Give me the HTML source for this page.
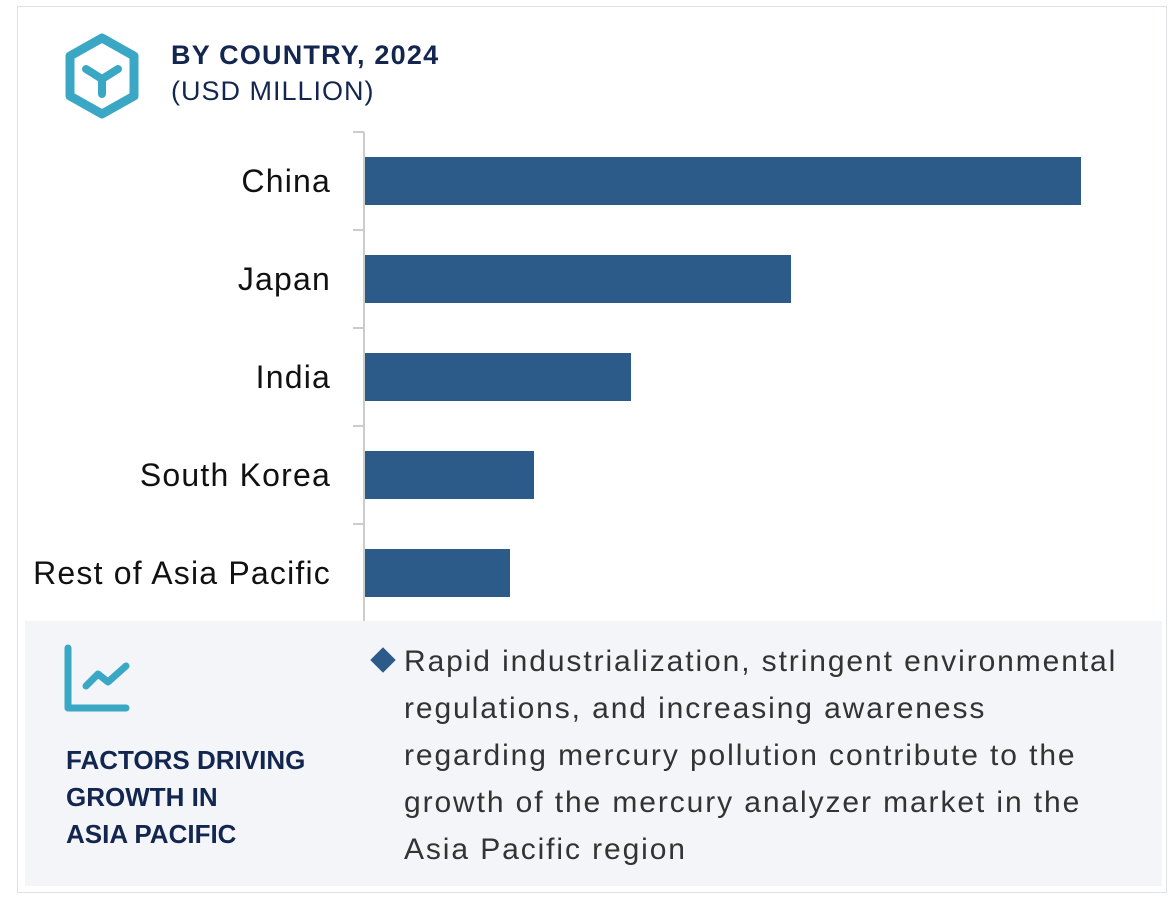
<!DOCTYPE html>
<html><head><meta charset="utf-8"><style>
body{margin:0;width:1170px;height:904px;background:#fff;font-family:"Liberation Sans",sans-serif;position:relative;overflow:hidden}
.frame{position:absolute;left:17px;top:6px;width:1150px;height:887px;border:1px solid #dde0e6;box-sizing:border-box}
.title{position:absolute;left:171px;top:40px;font-size:27px;font-weight:bold;color:#13264f;letter-spacing:1.2px}
.sub{position:absolute;left:171px;top:76px;font-size:27px;color:#13264f;letter-spacing:1px}
.panel{position:absolute;left:25px;top:621px;width:1137px;height:265px;background:#f4f5f9}
.ptitle{position:absolute;left:66px;top:742px;font-size:26px;font-weight:bold;color:#13264f;line-height:37px}
.ptext{position:absolute;left:404px;top:638px;font-size:30px;color:#333;line-height:47px;white-space:nowrap;letter-spacing:1.9px}
.dia{position:absolute;left:374px;top:651px;width:18px;height:18px;background:#2c5b8a;transform:rotate(45deg)}
</style></head><body>
<div class="frame"></div>
<svg style="position:absolute;left:62px;top:32px" width="80" height="88" viewBox="0 0 80 88">
<polygon points="40,6 72,24 72,64 40,82 8,64 8,24" fill="none" stroke="#3aa8c4" stroke-width="9" stroke-linejoin="round"/>
<path d="M24,37 L40,47 L56,37 M40,47 L40,62" fill="none" stroke="#3aa8c4" stroke-width="8" stroke-linecap="round"/>
</svg>
<div class="title">BY COUNTRY, 2024</div>
<div class="sub">(USD MILLION)</div>
<svg id="chart" style="position:absolute;left:0;top:0" width="1170" height="630"></svg>
<div class="panel"></div>
<svg style="position:absolute;left:62px;top:644px" width="72" height="72">
<path d="M6,4 L6,64 L64,64" fill="none" stroke="#3aa8c4" stroke-width="7" stroke-linecap="round" stroke-linejoin="round"/>
<path d="M24,42 L36,30 L46,38 L64,22" fill="none" stroke="#3aa8c4" stroke-width="7" stroke-linecap="round" stroke-linejoin="round"/>
</svg>
<div class="ptitle">FACTORS DRIVING<br>GROWTH IN<br>ASIA PACIFIC</div>
<div class="dia"></div>
<div class="ptext">Rapid industrialization, stringent environmental<br>regulations, and increasing awareness<br>regarding mercury pollution contribute to the<br>growth of the mercury analyzer market in the<br>Asia Pacific region</div>
<script>
const categories=["China","Japan","India","South Korea","Rest of Asia Pacific"];
const values=[716,426,266,169,145];
const svg=document.getElementById('chart');
const NS='http://www.w3.org/2000/svg';
const x0=365,xScale=v=>x0+v*1.0;
const top0=132,band=98,barH=48;
const yScale=i=>top0+i*band;
function mk(t,a){const e=document.createElementNS(NS,t);for(const k in a)e.setAttribute(k,a[k]);svg.appendChild(e);return e;}
const ax=mk('line',{x1:364,y1:top0,x2:364,y2:top0+band*categories.length,stroke:'#ccc','stroke-width':2});


for(let i=0;i<=categories.length;i++){
 const t=mk('line',{x1:353,y1:yScale(i),x2:364,y2:yScale(i),stroke:'#ccc','stroke-width':2});
 
 
}
categories.forEach((c,i)=>{
 const y=yScale(i)+(band-barH)/2;
 const r=mk('rect',{x:x0,y:y,width:xScale(values[i])-x0,height:barH,fill:'#2c5b8a'});
 
 
 const t=mk('text',{x:331,y:y+barH/2+11,'text-anchor':'end','font-size':32,fill:'#111','font-family':'Liberation Sans, sans-serif','letter-spacing':'1.2'});
 t.textContent=c;
 
 
});
</script>
</body></html>
